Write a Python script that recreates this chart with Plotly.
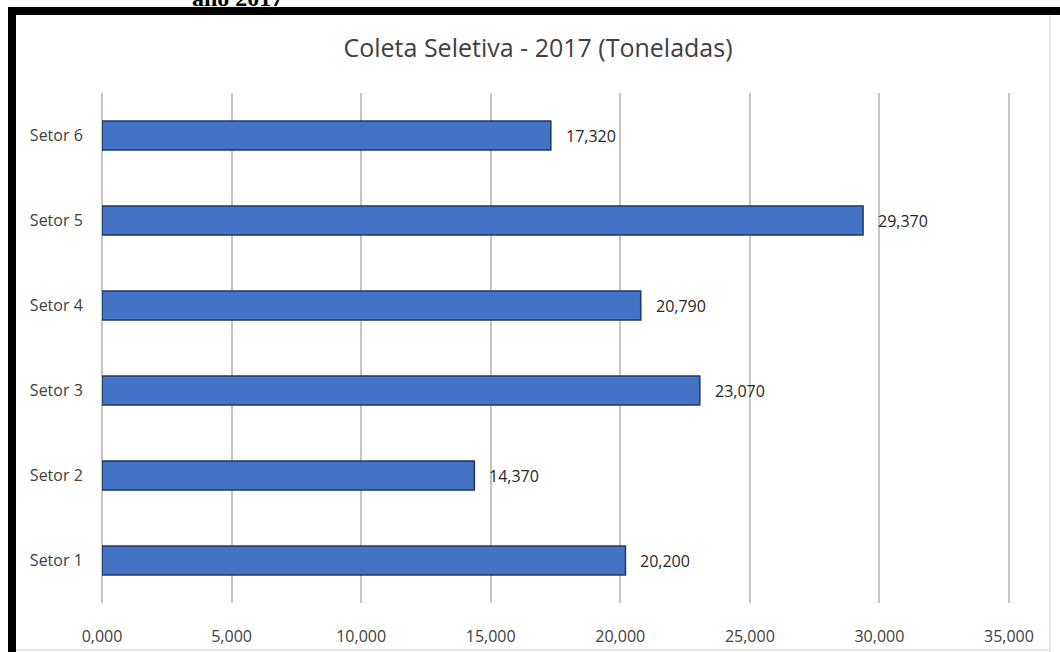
import plotly.graph_objects as go

# Coleta seletiva por setor, 2017 (toneladas)
setores = ["Setor 1", "Setor 2", "Setor 3", "Setor 4", "Setor 5", "Setor 6"]
toneladas = [20200, 14370, 23070, 20790, 29370, 17320]
rotulos = ["20,200", "14,370", "23,070", "20,790", "29,370", "17,320"]
eixo_x_vals = [0, 5000, 10000, 15000, 20000, 25000, 30000, 35000]
eixo_x_txt = ["0,000", "5,000", "10,000", "15,000", "20,000", "25,000", "30,000", "35,000"]

W, H = 1060, 652
L, R, T, B = 102, 50, 93, 49
PW, PH = W - L - R, H - T - B
FONTE = "Open Sans, Lato, sans-serif"


def px(x):
    return (x - L) / PW


def py(y):
    return (H - B - y) / PH


fig = go.Figure(
    go.Bar(
        y=setores,
        x=toneladas,
        orientation="h",
        width=0.34,
        marker=dict(color="#4472C4", line=dict(color="#1F3864", width=1.5)),
        hoverinfo="skip",
    )
)

# Rótulos de valor à direita de cada barra
for s, v, r in zip(setores, toneladas, rotulos):
    fig.add_annotation(
        x=v,
        y=s,
        text=r,
        xanchor="left",
        yanchor="middle",
        xshift=13,
        showarrow=False,
        font=dict(family=FONTE, size=16, color="#262626"),
    )

fig.update_layout(
    width=W,
    height=H,
    margin=dict(l=L, r=R, t=T, b=B, autoexpand=False),
    paper_bgcolor="white",
    plot_bgcolor="white",
    showlegend=False,
    font=dict(family=FONTE, color="#404040"),
    title=dict(
        text="Coleta Seletiva - 2017 (Toneladas)",
        x=538 / W,
        xanchor="center",
        y=1 - 48 / H,
        yanchor="middle",
        font=dict(size=25, color="#404040", family=FONTE),
    ),
    xaxis=dict(
        range=[0, 35040],
        tickvals=eixo_x_vals,
        ticktext=eixo_x_txt,
        automargin=False,
        showgrid=True,
        gridcolor="#C4C4C4",
        gridwidth=1.5,
        zeroline=True,
        zerolinecolor="#C4C4C4",
        zerolinewidth=1.5,
        showline=False,
        ticks="outside",
        ticklen=19,
        tickcolor="rgba(0,0,0,0)",
        tickfont=dict(size=16, color="#404040"),
    ),
    yaxis=dict(
        range=[-0.5, 5.5],
        automargin=False,
        showgrid=False,
        zeroline=False,
        showline=False,
        ticks="outside",
        ticklen=15,
        tickcolor="rgba(0,0,0,0)",
        tickfont=dict(size=16, color="#404040"),
    ),
)

# Moldura: bordas pretas à esquerda e no topo, contorno cinza claro no resto
moldura = [
    dict(x0=8, x1=16, y0=7, y1=H, color="black"),
    dict(x0=8, x1=W, y0=7, y1=15, color="black"),
    dict(x0=1049, x1=1051, y0=15, y1=H, color="#E6E6E6"),
    dict(x0=16, x1=1050, y0=649, y1=651, color="#E6E6E6"),
]
for m in moldura:
    fig.add_shape(
        type="rect",
        xref="paper",
        yref="paper",
        x0=px(m["x0"]),
        x1=px(m["x1"]),
        y0=py(m["y1"]),
        y1=py(m["y0"]),
        fillcolor=m["color"],
        line=dict(width=0),
        layer="above",
    )

# Legenda do documento acima do gráfico (parcialmente cortada na margem)
fig.add_annotation(
    text="<b>ano 2017</b>",
    xref="paper",
    yref="paper",
    x=px(237),
    y=py(13),
    xanchor="center",
    yanchor="bottom",
    showarrow=False,
    font=dict(family="Liberation Serif, serif", size=24, color="black"),
)

fig.write_html("out.html")
